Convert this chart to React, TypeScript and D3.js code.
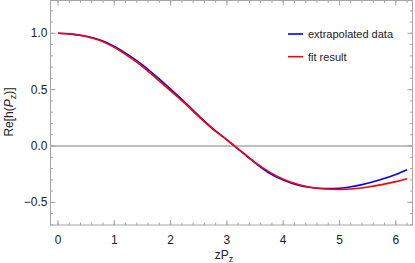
import React from 'react';
import * as d3 from 'd3';

const xs = [0, 0.25, 0.5, 0.75, 1, 1.25, 1.5, 1.75, 2, 2.25, 2.5, 2.75, 3, 3.25, 3.5, 3.75, 4, 4.25, 4.5, 4.75, 5, 5.25, 5.5, 5.75, 6, 6.2];
const extrapolated = [1.0, 0.993, 0.974, 0.94, 0.884, 0.808, 0.72, 0.615, 0.505, 0.39, 0.268, 0.155, 0.055, -0.048, -0.15, -0.24, -0.302, -0.345, -0.368, -0.377, -0.375, -0.358, -0.33, -0.295, -0.252, -0.21];
const fitResult = [1.0, 0.992, 0.972, 0.935, 0.875, 0.795, 0.705, 0.598, 0.49, 0.38, 0.26, 0.15, 0.055, -0.045, -0.145, -0.23, -0.295, -0.34, -0.368, -0.382, -0.386, -0.38, -0.364, -0.343, -0.316, -0.29];
const xTicks = [0, 1, 2, 3, 4, 5, 6];
const yTicks = [-0.5, 0, 0.5, 1.0];
const legendItems = [
  { label: 'extrapolated data', color: '#0000ff' },
  { label: 'fit result', color: '#ff0000' },
];

const W = 415;
const H = 263;
const left = 50.5;
const right = 412.5;
const top = 0.5;
const bottom = 225;

export default function App() {
  const x = d3.scaleLinear().domain([0, 6]).range([58, 395.8]);
  const y = d3.scaleLinear().domain([0, 1]).range([146, 33.3]);

  const line = d3.line<number>()
    .x((_, i) => x(xs[i]))
    .y(d => y(d))
    .curve(d3.curveMonotoneX);

  const xMinor = d3.range(-0.2, 6.3, 0.2).filter(v => x(v) > left && x(v) < right);
  const yMinor = d3.range(-0.7, 1.31, 0.1).filter(v => y(v) < bottom && y(v) > top);
  const frame = '#a6a6a6';
  const font = 'Liberation Sans, Arial, sans-serif';

  return (
    <div style={{ position: 'absolute', left: 0, top: 0 }}>
      <svg width={W} height={H} style={{ display: 'block' }} fontFamily={font}>
        <rect x={0} y={0} width={W} height={H} fill="#fff" />
        <line x1={left} x2={right} y1={y(0)} y2={y(0)} stroke="#808080" strokeWidth={1} />
        <path d={line(extrapolated) ?? ''} fill="none" stroke="#0000ff" strokeWidth={1.6} />
        <path d={line(fitResult) ?? ''} fill="none" stroke="#ff0000" strokeWidth={1.6} />
        <rect x={left} y={top} width={right - left} height={bottom - top} fill="none" stroke={frame} strokeWidth={1} />
        {xMinor.map((v, i) => (
          <g key={'xm' + i}>
            <line x1={x(v)} x2={x(v)} y1={bottom} y2={bottom - 2.5} stroke={frame} />
            <line x1={x(v)} x2={x(v)} y1={top} y2={top + 2.5} stroke={frame} />
          </g>
        ))}
        {yMinor.map((v, i) => (
          <g key={'ym' + i}>
            <line x1={left} x2={left + 2.5} y1={y(v)} y2={y(v)} stroke={frame} />
            <line x1={right} x2={right - 2.5} y1={y(v)} y2={y(v)} stroke={frame} />
          </g>
        ))}
        {xTicks.map(v => (
          <g key={'x' + v}>
            <line x1={x(v)} x2={x(v)} y1={bottom} y2={bottom - 5} stroke={frame} />
            <line x1={x(v)} x2={x(v)} y1={top} y2={top + 5} stroke={frame} />
            <text x={x(v)} y={244} textAnchor="middle" fontSize={12} fill="#222">{v}</text>
          </g>
        ))}
        {yTicks.map(v => (
          <g key={'y' + v}>
            <line x1={left} x2={left + 5} y1={y(v)} y2={y(v)} stroke={frame} />
            <line x1={right} x2={right - 5} y1={y(v)} y2={y(v)} stroke={frame} />
            <text x={47.5} y={y(v) + 4} textAnchor="end" fontSize={12} fill="#222">
              {v < 0 ? '\u2212' + Math.abs(v).toFixed(1) : v.toFixed(1)}
            </text>
          </g>
        ))}
        <text x={224} y={259} textAnchor="middle" fontSize={12} fill="#222">
          zP<tspan fontSize={9} dy={2.5}>z</tspan>
        </text>
        <text transform={`translate(13, 112) rotate(-90)`} textAnchor="middle" fontSize={12} fill="#222">
          Re[h(<tspan fontStyle="italic">P</tspan><tspan fontSize={9} dy={3}>z</tspan><tspan dy={-3}>)]</tspan>
        </text>
        {legendItems.map((d, i) => (
          <g key={d.label} transform={`translate(288, ${34 + i * 22.7})`}>
            <line x1={0} x2={15} y1={0} y2={0} stroke={d.color} strokeWidth={1.6} />
            <text x={20} y={4} fontSize={11} fill="#222">{d.label}</text>
          </g>
        ))}
      </svg>
    </div>
  );
}
